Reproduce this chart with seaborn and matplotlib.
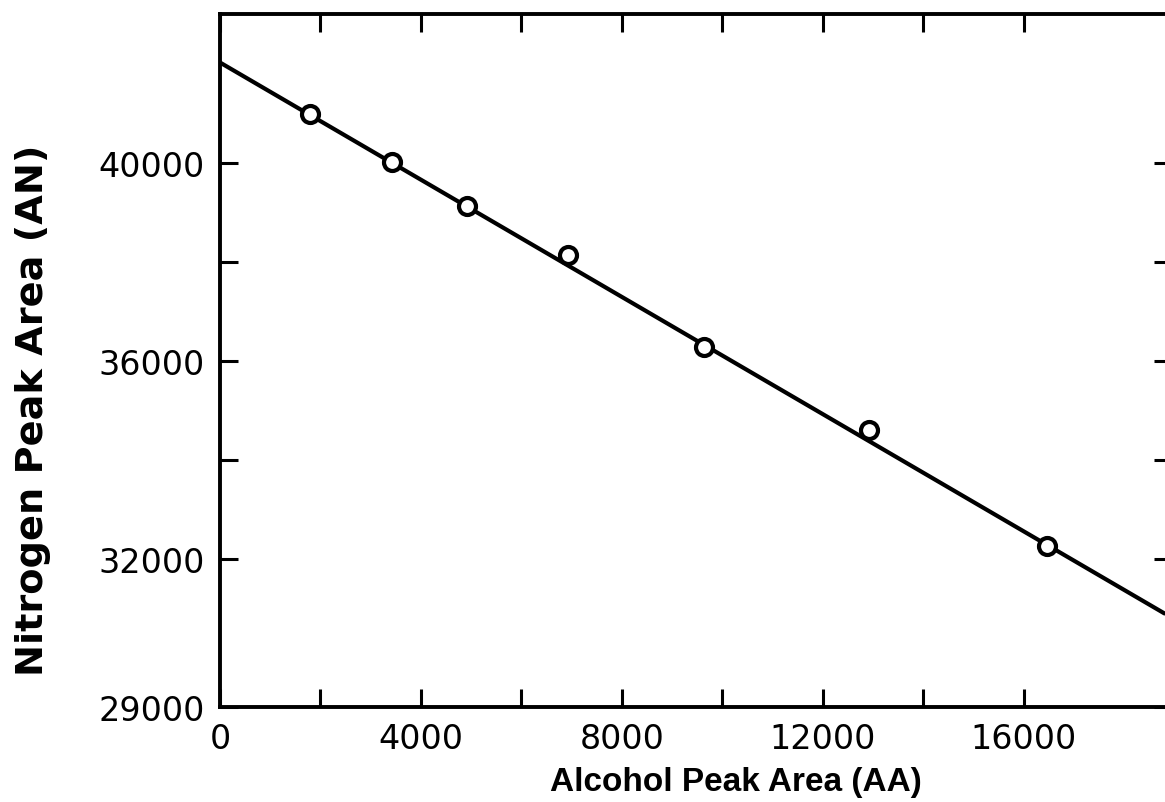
import pandas as pd
import matplotlib.pyplot as plt
import seaborn as sns

# Calibration points
alcohol_area = [1790, 3420, 4920, 6930, 9630, 12920, 16460]
nitrogen_area = [40975, 40020, 39130, 38130, 36280, 34600, 32260]

# Straight calibration line (two end points)
fit_x = [0, 18800]
fit_y = [42020, 30890]

x_labels = [0, 4000, 8000, 12000, 16000]
x_minor = [2000, 6000, 10000, 14000]
y_labels = [29000, 32000, 36000, 40000]
y_minor = [34000, 38000]

df = pd.DataFrame({"AA": alcohol_area, "AN": nitrogen_area})
line_df = pd.DataFrame({"AA": fit_x, "AN": fit_y})

sns.set_style("ticks", {"axes.edgecolor": "black", "text.color": "black",
                        "xtick.color": "black", "ytick.color": "black",
                        "axes.labelcolor": "black"})
plt.rcParams["font.family"] = ["DejaVu Sans"]

fig = plt.figure(figsize=(11.65, 8.03), dpi=100)
ax = fig.add_axes([220 / 1165, 95 / 803, 952 / 1165, 693 / 803])

sns.lineplot(data=line_df, x="AA", y="AN", color="black", linewidth=3.0, ax=ax)
sns.scatterplot(data=df, x="AA", y="AN", s=150, facecolor="white",
                edgecolor="black", linewidth=3.0, zorder=3, ax=ax)

ax.set_xlim(0, 18950)
ax.set_ylim(29000, 43000)

ax.set_xticks(x_labels)
ax.set_xticks(x_minor, minor=True)
ax.set_yticks(y_labels)
ax.set_yticks(y_minor, minor=True)
ax.set_xticklabels([str(v) for v in x_labels])
ax.set_yticklabels([str(v) for v in y_labels])

ax.tick_params(which="both", direction="in", length=13, width=2.2,
               top=True, right=True, labelsize=24, pad=11)

for s in ax.spines.values():
    s.set_linewidth(2.8)

ax.set_xlabel("Alcohol Peak Area (AA)", fontsize=24, fontweight="bold",
              family=["Liberation Sans Narrow", "Liberation Sans"])
ax.set_ylabel("Nitrogen Peak Area (AN)", fontsize=27.5, fontweight="bold",
              family=["DejaVu Sans"])
ax.xaxis.label.set_va("center")
ax.yaxis.label.set_va("center")
ax.xaxis.set_label_coords(0.542, -0.107)
ax.yaxis.set_label_coords(-0.196, 0.43)

fig.savefig("out.png", dpi=100)
